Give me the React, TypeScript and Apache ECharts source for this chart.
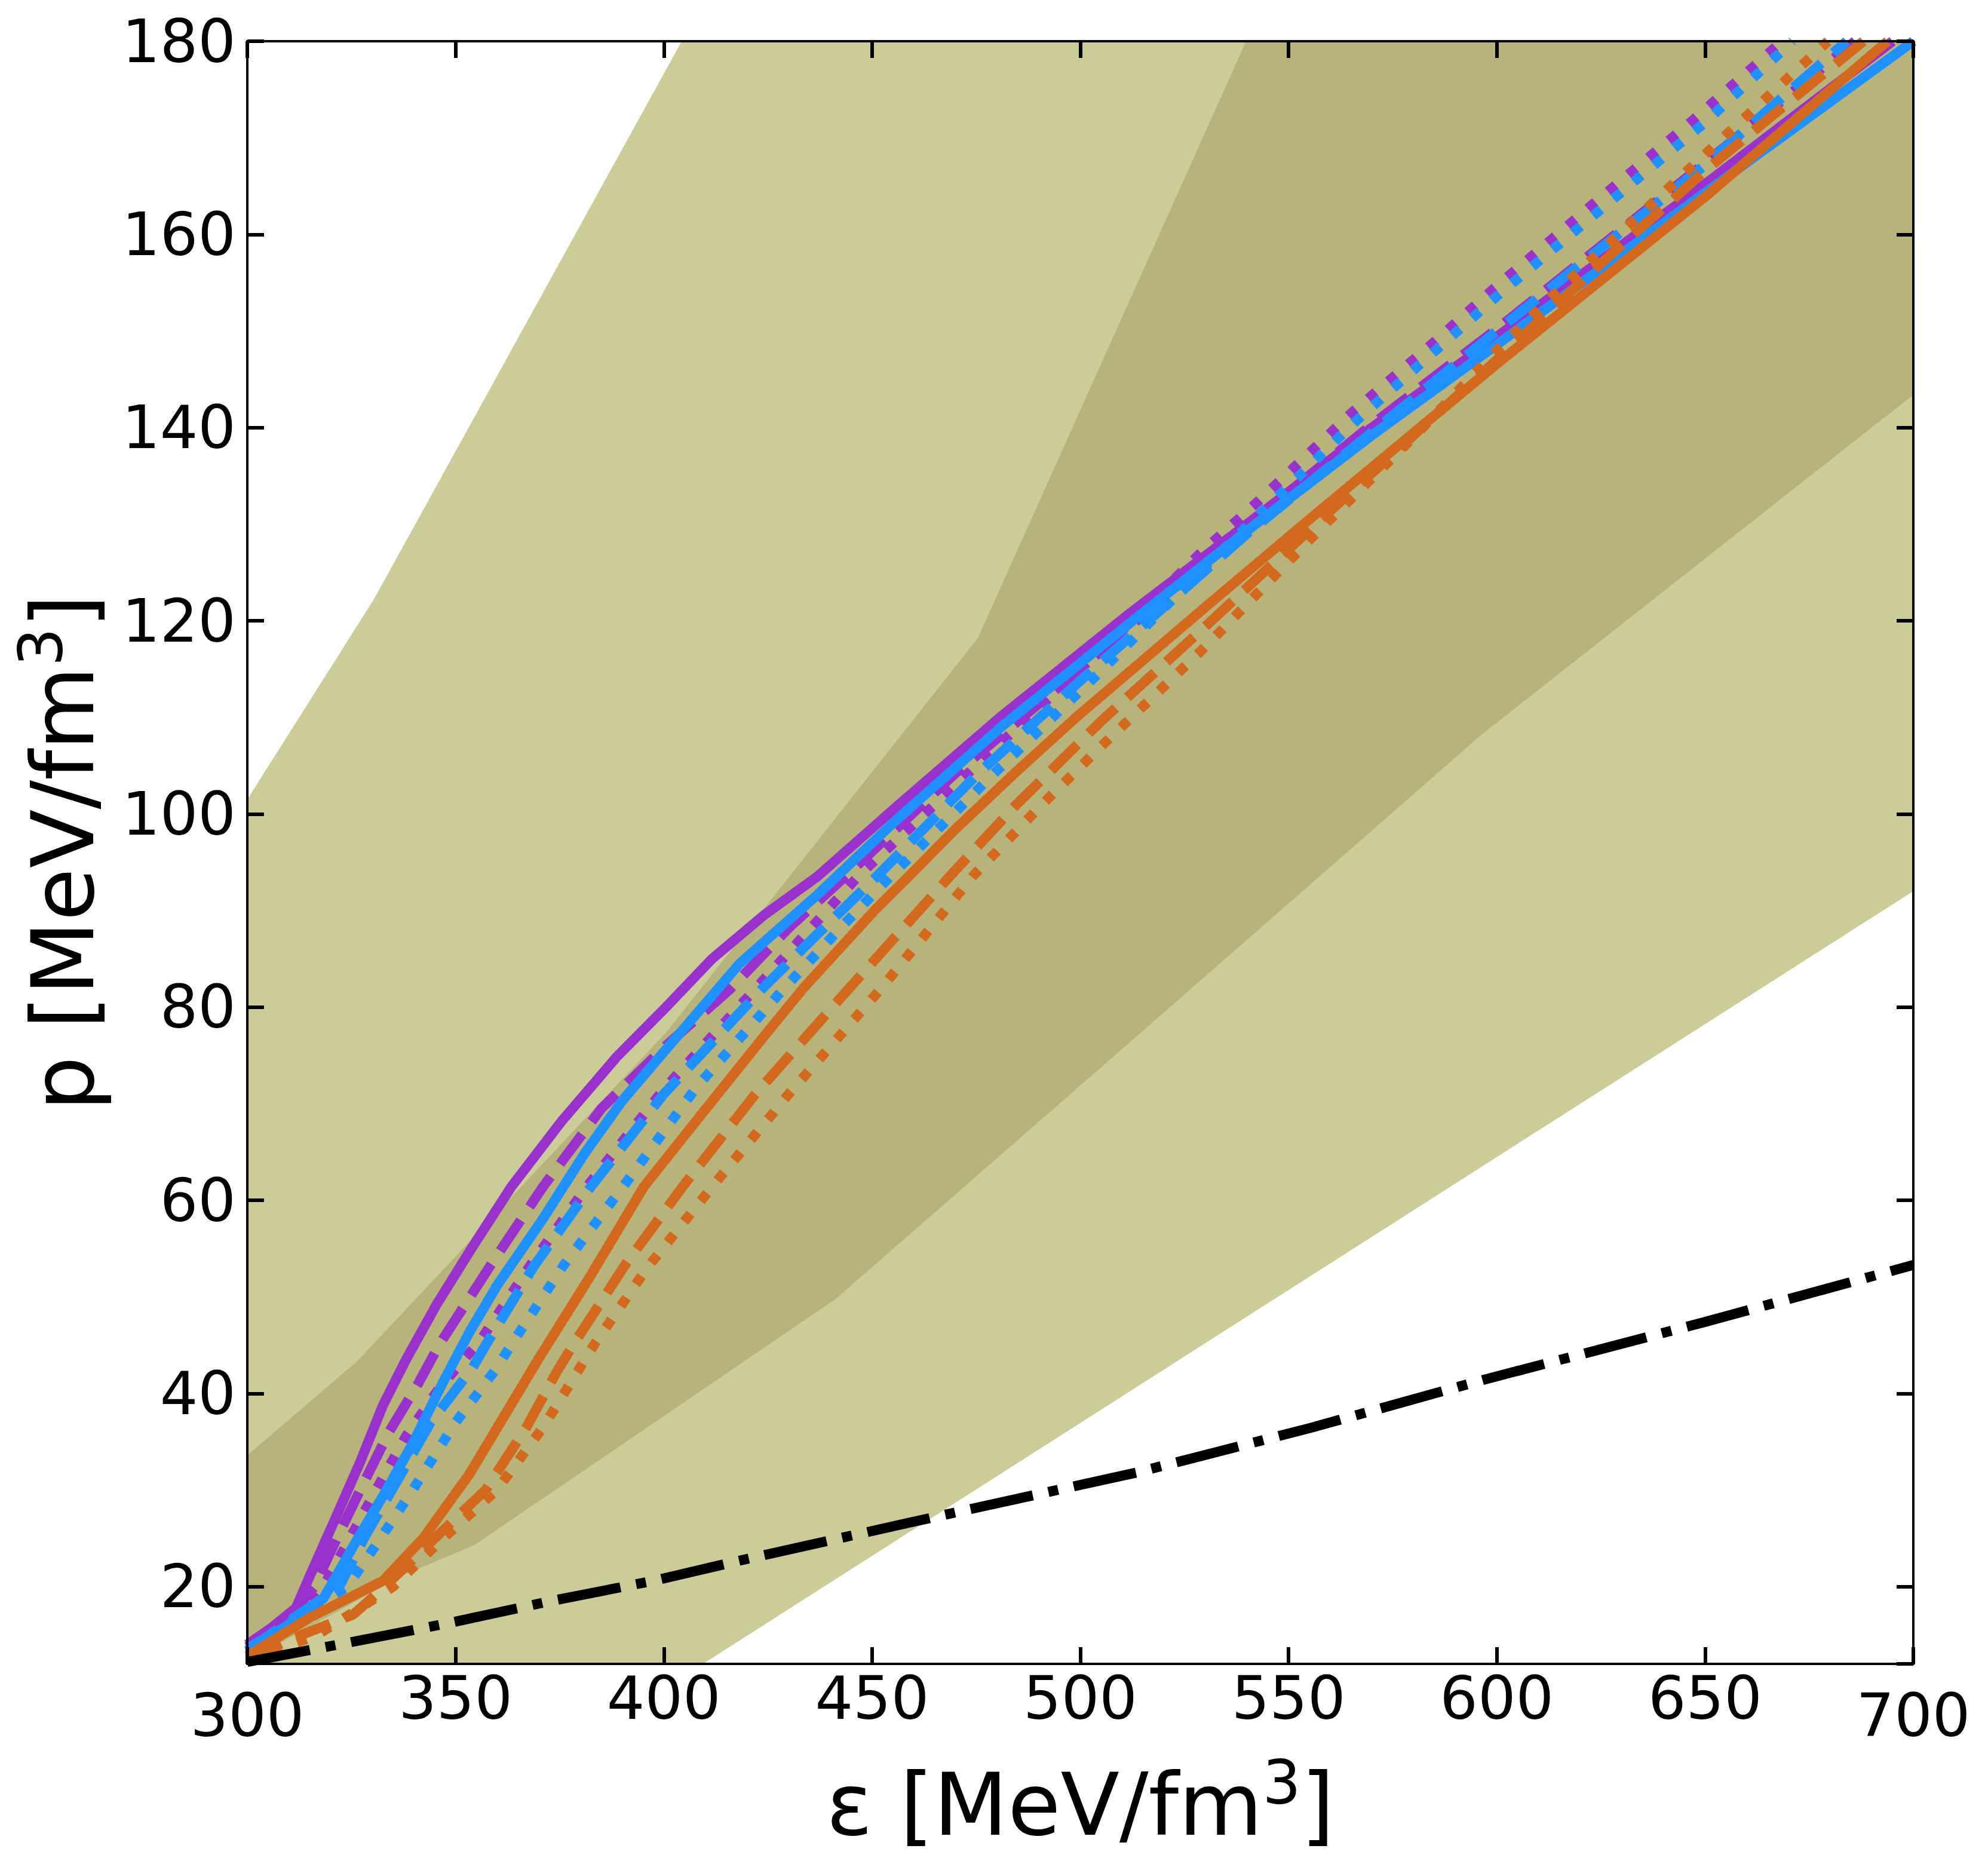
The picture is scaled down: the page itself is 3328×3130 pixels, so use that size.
import React, { useEffect, useRef } from 'react';
import * as echarts from 'echarts';

// ---- axes ----
const X_MIN = 300;
const X_MAX = 700;
const X_STEP = 50;
const Y_MIN = 12;
const Y_MAX = 180;
const Y_STEP = 20;

// ---- bands (energy density, pressure) ----
const LIGHT_BAND_UPPER = [[300, 101.5], [330.5, 122.3], [404.3, 180], [700, 180]];
const LIGHT_BAND_LOWER = [[300, 12], [409.4, 12], [700, 92]];
const DARK_BAND_UPPER = [[300, 33.6], [326.3, 43.3], [400.6, 77.4], [475.4, 118.2], [539.8, 180], [700, 180]];
const DARK_BAND_LOWER = [[300, 12.3], [338, 21.3], [354.5, 24.3], [384.5, 33.1], [441.3, 49.8], [499, 71.5], [596.3, 108.2], [700, 143.4]];

// ---- equations of state ----
const PURPLE_SOLID = [[300, 14.0], [306, 15.8], [311.7, 17.8], [315, 21.1], [321.6, 27.5], [327.1, 32.9], [332.6, 38.8], [338.1, 43.5], [345.3, 49.1], [353.8, 55.0], [363.4, 61.4], [375.5, 68.2], [388.6, 74.8], [400.3, 79.9], [411.6, 85.0], [424, 89.5], [436.8, 93.5], [456, 100.8], [481, 110.1], [512, 120.8], [540, 130.0], [570, 140.0], [600, 149.4], [650, 165.2], [695, 180]];
const PURPLE_DASHED = [[300, 13.8], [309, 16.3], [316.1, 20.0], [321.5, 25.0], [327.1, 30.0], [334, 36.0], [341, 41.0], [346.3, 45.2], [358, 53.0], [371, 61.4], [385, 69.5], [400, 75.8], [416, 81.9], [430, 88.2], [444, 93.7], [470, 104.2], [500, 115.0], [540, 129.8], [570, 140.3], [600, 150.2], [650, 167.4], [686, 180]];
const PURPLE_DOTTED = [[300, 13.7], [310, 16.2], [318, 19.8], [324, 24.5], [330.9, 30.0], [338, 35.5], [346, 40.5], [356, 45.5], [368, 53.3], [381.5, 61.4], [400, 71.5], [422, 81.9], [447, 93.7], [480, 107.0], [512, 119.8], [528.6, 126.9], [542.8, 132.4], [565.6, 141.7], [584.8, 148.8], [599.3, 154.4], [623, 163.1], [647.3, 171.9], [668.5, 180]];
const BLUE_SOLID = [[300, 13.6], [309, 15.8], [318.3, 18.8], [326, 24.6], [332.6, 29.4], [339.7, 34.8], [346.8, 41.0], [353.4, 46.4], [360, 51.2], [371, 58.1], [380.9, 64.8], [390, 70.3], [399.5, 75.1], [418.2, 84.5], [436.8, 91.6], [455.4, 99.2], [481, 109.0], [512, 119.8], [540, 129.3], [570, 139.2], [600, 148.6], [650, 164.3], [700, 180]];
const BLUE_DASHED = [[300, 13.4], [312, 17.0], [322.1, 20.0], [328, 25.0], [334.7, 30.0], [344, 37.0], [354, 42.6], [357.5, 45.2], [369, 53.3], [382.5, 61.4], [400, 71.0], [423.6, 81.9], [437, 87.6], [451.5, 93.7], [475, 104.0], [500, 113.8], [540, 129.0], [570, 139.5], [600, 150.0], [650, 167.2], [684, 180]];
const BLUE_DOTTED = [[300, 13.3], [313, 16.8], [324, 20.0], [332, 25.0], [339.7, 30.0], [350, 37.0], [359.5, 42.4], [363.6, 45.2], [376, 53.3], [390.2, 61.4], [408, 71.8], [428.8, 81.9], [442, 88.0], [454.8, 93.7], [480, 104.5], [505, 114.8], [530, 125.6], [566, 140.6], [600, 153.6], [625, 162.6], [650, 171.6], [671, 180]];
const ORANGE_SOLID = [[300, 12.8], [315, 16.8], [332.6, 20.6], [342.4, 25.1], [353.4, 31.7], [361.6, 37.6], [369.8, 43.5], [382, 51.9], [395.2, 61.4], [408.3, 68.5], [425.8, 77.9], [433.4, 81.9], [451, 90.2], [459.2, 93.7], [469.7, 98.3], [484.7, 104.4], [499, 110.0], [530, 121.4], [556.4, 131.0], [600, 146.6], [650, 163.9], [693.8, 180]];
const ORANGE_DASHED = [[300, 12.6], [313, 15.0], [325.4, 17.1], [333, 20.0], [345, 25.0], [357.2, 30.0], [367, 36.5], [374.5, 42.4], [378.5, 45.2], [391, 53.5], [404.5, 61.4], [422, 71.0], [444.4, 81.9], [469, 93.7], [484.5, 100.9], [505, 109.6], [530, 119.4], [556, 129.8], [580, 139.2], [600, 147.0], [625, 157.0], [650, 166.6], [688, 180]];
const ORANGE_DOTTED = [[300, 12.4], [316.4, 14.9], [326, 17.5], [335, 20.0], [347, 25.0], [359.9, 30.0], [371, 36.5], [379.5, 42.4], [383.5, 45.2], [396, 53.0], [411.6, 61.4], [430, 71.0], [452.1, 81.9], [474.5, 93.7], [490.4, 100.8], [505, 107.0], [530, 117.3], [556, 128.8], [580, 139.0], [600, 148.0], [615, 154.3], [650, 168.3], [679.5, 180]];
const BLACK_DASHDOT = [[300, 12.2], [323.1, 14.1], [348.1, 16.2], [372.8, 18.5], [397.5, 20.6], [420.3, 22.9], [466, 27.3], [513.4, 31.8], [555, 36.4], [596.7, 41.4], [650, 47.4], [700, 53.3]];

// ---- styles ----
const FONT = 'DejaVu Sans';
const PURPLE = '#9932CC';
const BLUE = '#1E90FF';
const ORANGE = '#D2691E';
const LIGHT_FILL = '#cccc99';
const DARK_FILL = '#b8b37a';
const LW = 16.7;
const DASHED = [61.7, 26.7];
const DOTTED = [16.7, 27.5];
const DASHDOT = [106.7, 26.7, 16.7, 26.7];

const CURVES: Array<{ data: number[][]; color: string; dash: any }> = [
  { data: PURPLE_SOLID, color: PURPLE, dash: 'solid' },
  { data: PURPLE_DASHED, color: PURPLE, dash: DASHED },
  { data: PURPLE_DOTTED, color: PURPLE, dash: DOTTED },
  { data: BLUE_SOLID, color: BLUE, dash: 'solid' },
  { data: BLUE_DASHED, color: BLUE, dash: DASHED },
  { data: BLUE_DOTTED, color: BLUE, dash: DOTTED },
  { data: ORANGE_SOLID, color: ORANGE, dash: 'solid' },
  { data: ORANGE_DASHED, color: ORANGE, dash: DASHED },
  { data: ORANGE_DOTTED, color: ORANGE, dash: DOTTED },
  { data: BLACK_DASHDOT, color: '#000000', dash: DASHDOT },
];

function bandSeries(upper: number[][], lower: number[][], color: string) {
  const poly = [...upper, ...lower.slice().reverse()];
  return {
    type: 'custom',
    coordinateSystem: 'cartesian2d',
    xAxisIndex: 0,
    yAxisIndex: 0,
    silent: true,
    clip: true,
    data: [poly[0]],
    encode: { x: 0, y: 1 },
    renderItem: (_params: any, api: any) => ({
      type: 'polygon',
      shape: { points: poly.map((p) => api.coord(p)) },
      style: { fill: color, stroke: null },
    }),
  };
}

const tickStyle = { inside: true, length: 28, lineStyle: { width: 6, color: '#000' } };
const lineStyleAxis = { onZero: false, lineStyle: { width: 4, color: '#000' } };
const labelBase = { fontSize: 100, fontFamily: FONT, color: '#000' };
const nameStyle = {
  fontSize: 144,
  fontFamily: FONT,
  color: '#000',
  lineHeight: 175,
  rich: { s: { fontSize: 101, fontFamily: FONT, color: '#000', lineHeight: 101, verticalAlign: 'top' } },
};

export default function App() {
  const ref = useRef<HTMLDivElement>(null);
  useEffect(() => {
    if (!ref.current) return;
    const chart = echarts.init(ref.current, null, { renderer: 'svg' });
    const option: any = {
      animation: false,
      backgroundColor: '#ffffff',
      grid: { left: 414, right: 125, top: 69, bottom: 345, containLabel: false, show: false },
      xAxis: [
        {
          type: 'value', position: 'bottom', min: X_MIN, max: X_MAX, interval: X_STEP, z: 10,
          axisLine: lineStyleAxis, axisTick: tickStyle, splitLine: { show: false },
          axisLabel: {
            ...labelBase, margin: 7,
            formatter: (v: number) => (v === X_MIN || v === X_MAX ? `{e|${v}}` : `${v}`),
            rich: { e: { ...labelBase, padding: [29, 0, 0, 0] } },
          },
          name: 'ε [MeV/fm{s|3}]', nameLocation: 'middle', nameGap: 148, nameTextStyle: nameStyle,
        },
        {
          type: 'value', position: 'top', min: X_MIN, max: X_MAX, interval: X_STEP, z: 10,
          axisLine: lineStyleAxis, axisTick: tickStyle, splitLine: { show: false }, axisLabel: { show: false },
        },
      ],
      yAxis: [
        {
          type: 'value', position: 'left', min: Y_MIN, max: Y_MAX, minInterval: Y_STEP, maxInterval: Y_STEP, splitNumber: 8, z: 10,
          axisLine: lineStyleAxis, axisTick: tickStyle, splitLine: { show: false },
          axisLabel: { ...labelBase, margin: 19, showMinLabel: false, formatter: (v: number) => (v % Y_STEP === 0 ? `${v}` : '') },
          name: 'p [MeV/fm{s|3}]', nameLocation: 'middle', nameGap: 218, nameTextStyle: nameStyle,
        },
        {
          type: 'value', position: 'right', min: Y_MIN, max: Y_MAX, minInterval: Y_STEP, maxInterval: Y_STEP, splitNumber: 8, z: 10,
          axisLine: lineStyleAxis, axisTick: tickStyle, splitLine: { show: false }, axisLabel: { show: false },
        },
      ],
      series: [
        bandSeries(LIGHT_BAND_UPPER, LIGHT_BAND_LOWER, LIGHT_FILL),
        bandSeries(DARK_BAND_UPPER, DARK_BAND_LOWER, DARK_FILL),
        ...CURVES.map((c) => ({
          type: 'line',
          xAxisIndex: 0,
          yAxisIndex: 0,
          data: c.data,
          showSymbol: false,
          symbol: 'none',
          clip: true,
          silent: true,
          lineStyle: { color: c.color, width: LW, type: c.dash, cap: 'butt', join: 'round' },
        })),
      ],
    };
    chart.setOption(option);
    return () => chart.dispose();
  }, []);
  return <div ref={ref} style={{ position: 'absolute', left: 0, top: 0, width: 3328, height: 3130, background: '#fff' }} />;
}
